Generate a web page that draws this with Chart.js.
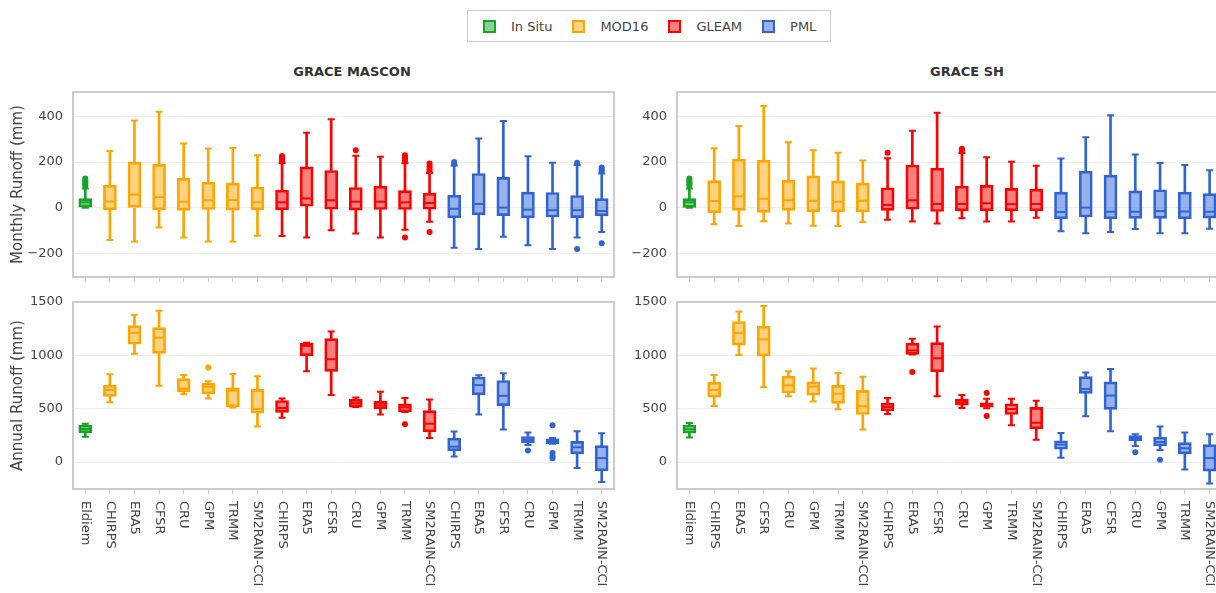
<!DOCTYPE html>
<html>
<head>
<meta charset="utf-8">
<script src="https://cdn.jsdelivr.net/npm/chart.js@4.4.1/dist/chart.umd.min.js"></script>
<style>
  html, body { margin: 0; padding: 0; background: #fff; }
  body { width: 1216px; height: 593px; overflow: hidden; position: relative; font-family: "DejaVu Sans", sans-serif; }
  canvas.panel { position: absolute; }
  .title { position: absolute; top: 64px; font: bold 13px "DejaVu Sans", sans-serif; color: #333; line-height: 16px; transform: translateX(-50%); white-space: nowrap; }
  #legend { position: absolute; left: 467px; top: 10px; width: 364px; height: 32px; box-sizing: border-box; border: 1px solid #cccccc; display: flex; align-items: center; padding-left: 15px; white-space: nowrap; }
  .item { display: flex; align-items: center; flex-shrink: 0; margin-right: 20px; font: 13px "DejaVu Sans", sans-serif; color: #444; white-space: nowrap; }
  .swatch { width: 13px; height: 13px; flex-shrink: 0; box-sizing: border-box; border: 2px solid; margin-right: 15px; }
</style>
</head>
<body>
<div id="legend"></div>
<div class="title" style="left:352px">GRACE MASCON</div>
<div class="title" style="left:967px">GRACE SH</div>
<canvas class="panel" id="mm" width="622" height="201" style="left:0;top:84px"></canvas>
<canvas class="panel" id="sm" width="620" height="201" style="left:610px;top:84px"></canvas>
<canvas class="panel" id="ma" width="622" height="299" style="left:0;top:294px"></canvas>
<canvas class="panel" id="sa" width="620" height="299" style="left:610px;top:294px"></canvas>
<script>
// Products (x axis) and the evapotranspiration source each one belongs to
const categories = ['Eldiem', 'CHIRPS', 'ERA5', 'CFSR', 'CRU', 'GPM', 'TRMM', 'SM2RAIN-CCI',
  'CHIRPS', 'ERA5', 'CFSR', 'CRU', 'GPM', 'TRMM', 'SM2RAIN-CCI',
  'CHIRPS', 'ERA5', 'CFSR', 'CRU', 'GPM', 'TRMM', 'SM2RAIN-CCI'];
const groups = ['In Situ', 'MOD16', 'GLEAM', 'PML'];
const groupOf = [0, 1, 1, 1, 1, 1, 1, 1, 2, 2, 2, 2, 2, 2, 2, 3, 3, 3, 3, 3, 3, 3];
const lineColors = ['#17a325', '#ffa500', '#ff0000', '#3063d6'];
const fillColors = ['rgba(23,163,37,0.5)', 'rgba(255,165,0,0.5)', 'rgba(255,0,0,0.5)', 'rgba(48,99,214,0.5)'];

// Tick values of the two runoff axes
const monthlyTicks = [-200, 0, 200, 400];
const annualTicks = [0, 500, 1000, 1500];

// Box statistics per product: [lower whisker, Q1, median, Q3, upper whisker] (mm)
const masconMonthly = [
  [0, 3, 24, 40, 84], [-140, -9, 28, 99, 248], [-147, 0, 58, 200, 381], [-86, -9, 47, 190, 420],
  [-129, -11, 27, 129, 281], [-147, -7, 33, 112, 259], [-147, -10, 34, 108, 261], [-122, -9, 24, 91, 230],
  [-123, -9, 24, 77, 196], [-130, 7, 41, 179, 328], [-98, -6, 33, 163, 387], [-112, -10, 27, 89, 228],
  [-130, -7, 27, 95, 223], [-96, -7, 24, 75, 195], [-61, -6, 21, 64, 152],
  [-174, -44, -4, 55, 185], [-180, -31, 17, 150, 303], [-126, -34, 1, 133, 379], [-163, -44, -8, 69, 225],
  [-180, -40, -10, 67, 197], [-130, -43, -10, 54, 187], [-105, -35, -14, 40, 150]
];
const masconMonthlyOut = [[95, 101, 107, 114, 121, 128], [], [], [], [], [], [], [],
  [203, 211, 219, 227], [], [], [252], [], [205, 213, 221, 230, -130], [160, 170, 182, 194, -105],
  [192, 200], [], [], [], [], [197, -180], [160, 168, 176, -155]];

const shMonthly = [
  [0, 2, 24, 40, 84], [-72, -21, 30, 119, 260], [-79, -11, 50, 213, 357], [-58, -20, 40, 208, 445],
  [-68, -11, 33, 120, 286], [-78, -17, 31, 140, 252], [-79, -17, 27, 118, 241], [-62, -18, 31, 108, 207],
  [-52, -11, 13, 88, 217], [-60, -6, 33, 187, 337], [-68, -16, 17, 173, 415], [-45, -13, 17, 95, 240],
  [-60, -13, 20, 98, 221], [-60, -13, 16, 85, 201], [-43, -13, 17, 82, 184],
  [-102, -48, -18, 69, 216], [-111, -40, 1, 160, 308], [-105, -48, -17, 143, 404], [-92, -46, -17, 74, 233],
  [-111, -46, -14, 79, 196], [-111, -48, -16, 69, 187], [-91, -45, -17, 62, 164]
];
const shMonthlyOut = [[98, 105, 112, 120, 128], [], [], [], [], [], [], [],
  [241], [], [], [250, 258], [], [], [],
  [], [], [], [], [], [], []];

const masconAnnual = [
  [236, 273, 310, 347, 359], [561, 616, 675, 721, 822], [1015, 1104, 1211, 1279, 1380], [715, 1018, 1165, 1260, 1417],
  [635, 659, 687, 782, 816], [595, 638, 702, 739, 758], [512, 518, 669, 696, 825], [334, 457, 497, 681, 804],
  [414, 466, 506, 577, 595], [850, 997, 1089, 1113, 1119], [629, 850, 963, 1156, 1224], [515, 515, 552, 589, 604],
  [445, 497, 531, 568, 659], [469, 469, 512, 546, 601], [224, 282, 359, 482, 586],
  [52, 104, 144, 224, 285], [445, 629, 721, 797, 813], [304, 528, 620, 764, 831], [160, 181, 209, 239, 276],
  [172, 172, 196, 218, 224], [-55, 77, 138, 193, 288], [-187, -83, 37, 153, 270]
];
const masconAnnualOut = [[], [], [], [], [], [886], [], [],
  [], [], [], [], [], [353], [],
  [], [], [], [107], [345, 85, 55, 35], [], []];

const shAnnual = [
  [230, 270, 307, 347, 365], [524, 607, 675, 748, 816], [1003, 1095, 1211, 1316, 1411], [702, 994, 1150, 1273, 1463],
  [616, 647, 718, 804, 850], [567, 626, 708, 751, 877], [494, 549, 641, 718, 834], [304, 445, 524, 672, 800],
  [451, 478, 515, 552, 601], [1009, 1009, 1046, 1115, 1156], [616, 846, 972, 1119, 1270], [506, 534, 561, 589, 629],
  [505, 515, 537, 555, 592], [344, 445, 497, 546, 592], [209, 310, 368, 512, 574],
  [40, 120, 163, 199, 273], [429, 644, 684, 800, 840], [288, 494, 623, 751, 871], [150, 199, 224, 248, 261],
  [113, 150, 187, 233, 334], [-71, 77, 129, 181, 276], [-202, -86, 37, 163, 261]
];
const shAnnualOut = [[], [], [], [], [], [], [], [],
  [], [843], [], [], [647, 432], [], [],
  [], [], [], [92], [21], [], []];

Chart.defaults.font.family = '"DejaVu Sans", sans-serif';
Chart.defaults.color = '#444';

// Legend
const legend = document.getElementById('legend');
groups.forEach((g, i) => {
  const item = document.createElement('div');
  item.className = 'item';
  const sw = document.createElement('span');
  sw.className = 'swatch';
  sw.style.borderColor = lineColors[i];
  sw.style.background = fillColors[i];
  item.appendChild(sw);
  item.appendChild(document.createTextNode(g));
  legend.appendChild(item);
});

// Frame around each plot area
const frame = {
  id: 'frame',
  afterDraw(chart) {
    const { ctx, chartArea: a } = chart;
    ctx.save();
    ctx.strokeStyle = '#cccccc';
    ctx.lineWidth = 2;
    ctx.strokeRect(a.left, a.top, a.right - a.left, a.bottom - a.top);
    ctx.restore();
  }
};

// Category names written downward under the lower panels
const downLabels = {
  id: 'downLabels',
  afterDraw(chart, args, opts) {
    if (!opts.show) return;
    const { ctx, chartArea: a } = chart;
    const xs = chart.scales.x;
    ctx.save();
    ctx.font = '13px "DejaVu Sans", sans-serif';
    ctx.fillStyle = '#444';
    ctx.textAlign = 'left';
    ctx.textBaseline = 'middle';
    categories.forEach((c, i) => {
      ctx.save();
      ctx.translate(xs.getPixelForValue(i), a.bottom + 12);
      ctx.rotate(Math.PI / 2);
      ctx.fillText(c, 0, 0);
      ctx.restore();
    });
    ctx.restore();
  }
};

function makePanel(id, stats, outliers, cfg) {
  const lc = categories.map((_, i) => lineColors[groupOf[i]]);
  const fc = categories.map((_, i) => fillColors[groupOf[i]]);
  const outPts = [];
  outliers.forEach((vals, i) => vals.forEach(v => outPts.push({ x: i, y: v })));
  const pointColor = ctx => ctx.raw ? lineColors[groupOf[ctx.raw.x]] : '#000';

  return new Chart(document.getElementById(id), {
    type: 'bar',
    data: {
      labels: categories,
      datasets: [
        { type: 'scatter', data: outPts, parsing: false, order: 0,
          pointRadius: 3, pointHoverRadius: 3, pointBorderWidth: 0,
          pointBackgroundColor: pointColor, pointBorderColor: pointColor },
        { type: 'line', data: stats.map(s => s[2]), order: 1, showLine: false,
          pointStyle: 'line', pointRadius: 6, pointHoverRadius: 6, pointBorderWidth: 2, pointBorderColor: lc },
        { type: 'line', data: stats.map(s => s[4]), order: 2, showLine: false,
          pointStyle: 'line', pointRadius: 3.5, pointHoverRadius: 3.5, pointBorderWidth: 2, pointBorderColor: lc },
        { type: 'line', data: stats.map(s => s[0]), order: 2, showLine: false,
          pointStyle: 'line', pointRadius: 3.5, pointHoverRadius: 3.5, pointBorderWidth: 2, pointBorderColor: lc },
        { data: stats.map(s => [s[1], s[3]]), order: 3, grouped: false, barThickness: 13,
          backgroundColor: fc, borderColor: lc, borderWidth: 2, borderSkipped: false },
        { data: stats.map(s => [s[3], s[4]]), order: 4, grouped: false, barThickness: 2,
          backgroundColor: lc, borderWidth: 0 },
        { data: stats.map(s => [s[0], s[1]]), order: 4, grouped: false, barThickness: 2,
          backgroundColor: lc, borderWidth: 0 }
      ]
    },
    options: {
      responsive: false,
      animation: false,
      events: [],
      layout: { padding: { top: 5, right: cfg.padRight, left: 0, bottom: 0 } },
      plugins: { legend: { display: false }, tooltip: { enabled: false }, downLabels: { show: cfg.labels } },
      scales: {
        x: {
          type: 'category',
          offset: true,
          border: { display: false },
          grid: { offset: false, drawOnChartArea: false, drawTicks: true, tickLength: 5, color: '#cccccc', lineWidth: 1 },
          ticks: { display: false },
          afterFit: s => { s.height = cfg.xHeight; s.paddingLeft = 0; s.paddingRight = 0; }
        },
        y: {
          min: cfg.min,
          max: cfg.max,
          afterBuildTicks: s => { s.ticks = cfg.ticks.map(v => ({ value: v })); },
          border: { display: false },
          grid: { color: '#eeeeee', lineWidth: 1, drawTicks: false },
          ticks: { padding: 10, color: '#444', font: { size: 13 },
            callback: v => String(v).replace('-', '\u2212') },
          title: { display: !!cfg.title, text: cfg.title, color: '#444', font: { size: 15 }, padding: { top: 9, bottom: 0 } },
          afterFit: s => { s.width = cfg.yWidth; s.paddingTop = 0; s.paddingBottom = 0; }
        }
      }
    },
    plugins: [frame, downLabels]
  });
}

makePanel('mm', masconMonthly, masconMonthlyOut,
  { min: -302, max: 506, ticks: monthlyTicks, title: 'Monthly Runoff (mm)', yWidth: 73, xHeight: 6, padRight: 2, labels: false });
makePanel('sm', shMonthly, shMonthlyOut,
  { min: -302, max: 506, ticks: monthlyTicks, title: '', yWidth: 67, xHeight: 6, padRight: 6, labels: false });
makePanel('ma', masconAnnual, masconAnnualOut,
  { min: -253, max: 1500, ticks: annualTicks, title: 'Annual Runoff (mm)', yWidth: 73, xHeight: 104, padRight: 2, labels: true });
makePanel('sa', shAnnual, shAnnualOut,
  { min: -253, max: 1500, ticks: annualTicks, title: '', yWidth: 67, xHeight: 104, padRight: 6, labels: true });
</script>
</body>
</html>
